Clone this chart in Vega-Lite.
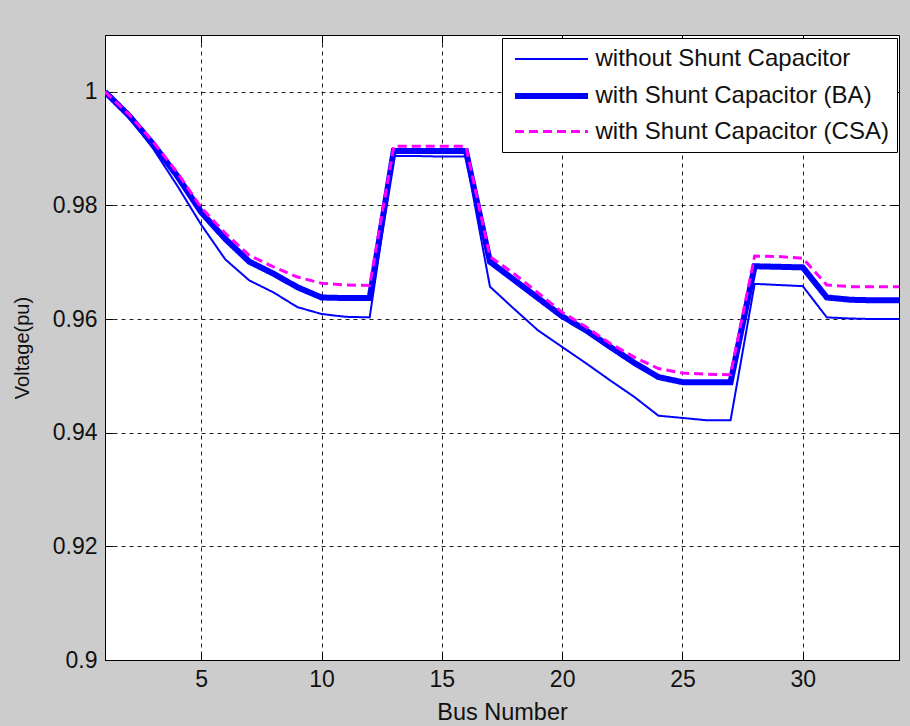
{
  "$schema": "https://vega.github.io/schema/vega-lite/v6.json",
  "width": 794,
  "height": 625,
  "autosize": {"type": "none"},
  "padding": {"left": 105, "top": 35, "right": 11, "bottom": 66},
  "background": "#cccccc",
  "config": {
    "view": {"fill": "white", "stroke": "black", "strokeWidth": 1},
    "font": "Liberation Sans",
    "axis": {
      "labelFont": "Liberation Sans", "labelFontSize": 23, "labelColor": "#111",
      "titleFont": "Liberation Sans", "titleFontWeight": "normal", "titleColor": "#111",
      "domainColor": "black", "tickColor": "black", "gridColor": "#222", "gridDash": [4, 4],
      "gridOpacity": 1, "gridWidth": 1
    },
    "legend": {
      "orient": "none", "legendX": 397, "legendY": 3, "strokeColor": "black", "fillColor": "white",
      "padding": 8, "rowPadding": 10, "labelFont": "Liberation Sans", "labelFontSize": 24,
      "labelColor": "#111", "labelOffset": 29, "symbolOffset": 26.5, "symbolType": "M-3.04,0H3.04",
      "symbolSize": 576, "labelLimit": 500
    }
  },
  "data": {"values": [
    {"bus": 1, "series": "without Shunt Capacitor", "v": 1.0},
    {"bus": 2, "series": "without Shunt Capacitor", "v": 0.9955},
    {"bus": 3, "series": "without Shunt Capacitor", "v": 0.9900},
    {"bus": 4, "series": "without Shunt Capacitor", "v": 0.9835},
    {"bus": 5, "series": "without Shunt Capacitor", "v": 0.9766},
    {"bus": 6, "series": "without Shunt Capacitor", "v": 0.9705},
    {"bus": 7, "series": "without Shunt Capacitor", "v": 0.9668},
    {"bus": 8, "series": "without Shunt Capacitor", "v": 0.9647},
    {"bus": 9, "series": "without Shunt Capacitor", "v": 0.9621},
    {"bus": 10, "series": "without Shunt Capacitor", "v": 0.9609},
    {"bus": 11, "series": "without Shunt Capacitor", "v": 0.9604},
    {"bus": 12, "series": "without Shunt Capacitor", "v": 0.9603},
    {"bus": 13, "series": "without Shunt Capacitor", "v": 0.9887},
    {"bus": 14, "series": "without Shunt Capacitor", "v": 0.9887},
    {"bus": 15, "series": "without Shunt Capacitor", "v": 0.9886},
    {"bus": 16, "series": "without Shunt Capacitor", "v": 0.9886},
    {"bus": 17, "series": "without Shunt Capacitor", "v": 0.9657},
    {"bus": 18, "series": "without Shunt Capacitor", "v": 0.9618},
    {"bus": 19, "series": "without Shunt Capacitor", "v": 0.9580},
    {"bus": 20, "series": "without Shunt Capacitor", "v": 0.9551},
    {"bus": 21, "series": "without Shunt Capacitor", "v": 0.9522},
    {"bus": 22, "series": "without Shunt Capacitor", "v": 0.9492},
    {"bus": 23, "series": "without Shunt Capacitor", "v": 0.9463},
    {"bus": 24, "series": "without Shunt Capacitor", "v": 0.9430},
    {"bus": 25, "series": "without Shunt Capacitor", "v": 0.9426},
    {"bus": 26, "series": "without Shunt Capacitor", "v": 0.9422},
    {"bus": 27, "series": "without Shunt Capacitor", "v": 0.9422},
    {"bus": 28, "series": "without Shunt Capacitor", "v": 0.9662},
    {"bus": 29, "series": "without Shunt Capacitor", "v": 0.9660},
    {"bus": 30, "series": "without Shunt Capacitor", "v": 0.9658},
    {"bus": 31, "series": "without Shunt Capacitor", "v": 0.9603},
    {"bus": 32, "series": "without Shunt Capacitor", "v": 0.9601},
    {"bus": 33, "series": "without Shunt Capacitor", "v": 0.9600},
    {"bus": 34, "series": "without Shunt Capacitor", "v": 0.9600},
    {"bus": 1, "series": "with Shunt Capacitor (BA)", "v": 1.0},
    {"bus": 2, "series": "with Shunt Capacitor (BA)", "v": 0.9958},
    {"bus": 3, "series": "with Shunt Capacitor (BA)", "v": 0.9908},
    {"bus": 4, "series": "with Shunt Capacitor (BA)", "v": 0.9852},
    {"bus": 5, "series": "with Shunt Capacitor (BA)", "v": 0.9788},
    {"bus": 6, "series": "with Shunt Capacitor (BA)", "v": 0.9741},
    {"bus": 7, "series": "with Shunt Capacitor (BA)", "v": 0.9701},
    {"bus": 8, "series": "with Shunt Capacitor (BA)", "v": 0.9680},
    {"bus": 9, "series": "with Shunt Capacitor (BA)", "v": 0.9656},
    {"bus": 10, "series": "with Shunt Capacitor (BA)", "v": 0.9638},
    {"bus": 11, "series": "with Shunt Capacitor (BA)", "v": 0.9637},
    {"bus": 12, "series": "with Shunt Capacitor (BA)", "v": 0.9637},
    {"bus": 13, "series": "with Shunt Capacitor (BA)", "v": 0.9896},
    {"bus": 14, "series": "with Shunt Capacitor (BA)", "v": 0.9896},
    {"bus": 15, "series": "with Shunt Capacitor (BA)", "v": 0.9896},
    {"bus": 16, "series": "with Shunt Capacitor (BA)", "v": 0.9896},
    {"bus": 17, "series": "with Shunt Capacitor (BA)", "v": 0.9701},
    {"bus": 18, "series": "with Shunt Capacitor (BA)", "v": 0.9669},
    {"bus": 19, "series": "with Shunt Capacitor (BA)", "v": 0.9637},
    {"bus": 20, "series": "with Shunt Capacitor (BA)", "v": 0.9605},
    {"bus": 21, "series": "with Shunt Capacitor (BA)", "v": 0.9580},
    {"bus": 22, "series": "with Shunt Capacitor (BA)", "v": 0.9551},
    {"bus": 23, "series": "with Shunt Capacitor (BA)", "v": 0.9523},
    {"bus": 24, "series": "with Shunt Capacitor (BA)", "v": 0.9498},
    {"bus": 25, "series": "with Shunt Capacitor (BA)", "v": 0.9489},
    {"bus": 26, "series": "with Shunt Capacitor (BA)", "v": 0.9489},
    {"bus": 27, "series": "with Shunt Capacitor (BA)", "v": 0.9489},
    {"bus": 28, "series": "with Shunt Capacitor (BA)", "v": 0.9693},
    {"bus": 29, "series": "with Shunt Capacitor (BA)", "v": 0.9692},
    {"bus": 30, "series": "with Shunt Capacitor (BA)", "v": 0.9691},
    {"bus": 31, "series": "with Shunt Capacitor (BA)", "v": 0.9638},
    {"bus": 32, "series": "with Shunt Capacitor (BA)", "v": 0.9634},
    {"bus": 33, "series": "with Shunt Capacitor (BA)", "v": 0.9633},
    {"bus": 34, "series": "with Shunt Capacitor (BA)", "v": 0.9633},
    {"bus": 1, "series": "with Shunt Capacitor (CSA)", "v": 1.0},
    {"bus": 2, "series": "with Shunt Capacitor (CSA)", "v": 0.9960},
    {"bus": 3, "series": "with Shunt Capacitor (CSA)", "v": 0.9912},
    {"bus": 4, "series": "with Shunt Capacitor (CSA)", "v": 0.9858},
    {"bus": 5, "series": "with Shunt Capacitor (CSA)", "v": 0.9796},
    {"bus": 6, "series": "with Shunt Capacitor (CSA)", "v": 0.9751},
    {"bus": 7, "series": "with Shunt Capacitor (CSA)", "v": 0.9712},
    {"bus": 8, "series": "with Shunt Capacitor (CSA)", "v": 0.9692},
    {"bus": 9, "series": "with Shunt Capacitor (CSA)", "v": 0.9674},
    {"bus": 10, "series": "with Shunt Capacitor (CSA)", "v": 0.9663},
    {"bus": 11, "series": "with Shunt Capacitor (CSA)", "v": 0.9660},
    {"bus": 12, "series": "with Shunt Capacitor (CSA)", "v": 0.9659},
    {"bus": 13, "series": "with Shunt Capacitor (CSA)", "v": 0.9904},
    {"bus": 14, "series": "with Shunt Capacitor (CSA)", "v": 0.9904},
    {"bus": 15, "series": "with Shunt Capacitor (CSA)", "v": 0.9904},
    {"bus": 16, "series": "with Shunt Capacitor (CSA)", "v": 0.9904},
    {"bus": 17, "series": "with Shunt Capacitor (CSA)", "v": 0.9710},
    {"bus": 18, "series": "with Shunt Capacitor (CSA)", "v": 0.9680},
    {"bus": 19, "series": "with Shunt Capacitor (CSA)", "v": 0.9646},
    {"bus": 20, "series": "with Shunt Capacitor (CSA)", "v": 0.9612},
    {"bus": 21, "series": "with Shunt Capacitor (CSA)", "v": 0.9586},
    {"bus": 22, "series": "with Shunt Capacitor (CSA)", "v": 0.9557},
    {"bus": 23, "series": "with Shunt Capacitor (CSA)", "v": 0.9533},
    {"bus": 24, "series": "with Shunt Capacitor (CSA)", "v": 0.9513},
    {"bus": 25, "series": "with Shunt Capacitor (CSA)", "v": 0.9505},
    {"bus": 26, "series": "with Shunt Capacitor (CSA)", "v": 0.9503},
    {"bus": 27, "series": "with Shunt Capacitor (CSA)", "v": 0.9502},
    {"bus": 28, "series": "with Shunt Capacitor (CSA)", "v": 0.9711},
    {"bus": 29, "series": "with Shunt Capacitor (CSA)", "v": 0.9710},
    {"bus": 30, "series": "with Shunt Capacitor (CSA)", "v": 0.9707},
    {"bus": 31, "series": "with Shunt Capacitor (CSA)", "v": 0.9660},
    {"bus": 32, "series": "with Shunt Capacitor (CSA)", "v": 0.9657},
    {"bus": 33, "series": "with Shunt Capacitor (CSA)", "v": 0.9657},
    {"bus": 34, "series": "with Shunt Capacitor (CSA)", "v": 0.9657}
  ]},
  "layer": [
    {
      "mark": {"type": "line", "clip": true},
      "encoding": {
        "x": {"field": "bus", "type": "quantitative",
          "scale": {"domain": [1, 34], "nice": false, "zero": false},
          "axis": {"values": [5, 10, 15, 20, 25, 30], "grid": true, "tickSize": -8, "labelPadding": 16,
            "title": "Bus Number", "titleFontSize": 23.5, "titlePadding": 9}},
        "y": {"field": "v", "type": "quantitative",
          "scale": {"domain": [0.9, 1.01], "nice": false, "zero": false},
          "axis": {"values": [0.9, 0.92, 0.94, 0.96, 0.98, 1.0], "format": ".2~f", "grid": true, "tickSize": -8,
            "labelPadding": 16, "title": "Voltage(pu)", "titleFontSize": 20, "titlePadding": 20}},
        "color": {"field": "series", "type": "nominal", "title": null,
          "scale": {"domain": ["without Shunt Capacitor", "with Shunt Capacitor (BA)", "with Shunt Capacitor (CSA)"],
            "range": ["#0000ff", "#0000ff", "#ff00ff"]}},
        "strokeWidth": {"field": "series", "type": "nominal", "title": null,
          "scale": {"type": "ordinal", "domain": ["without Shunt Capacitor", "with Shunt Capacitor (BA)", "with Shunt Capacitor (CSA)"],
            "range": [2, 6, 3]}},
        "strokeDash": {"field": "series", "type": "nominal", "title": null,
          "scale": {"domain": ["without Shunt Capacitor", "with Shunt Capacitor (BA)", "with Shunt Capacitor (CSA)"],
            "range": [[1, 0], [1, 0], [9, 5]]}}
      }
    },
    {
      "mark": {"type": "point", "opacity": 0},
      "encoding": {
        "x": {"field": "bus", "type": "quantitative",
          "axis": {"orient": "top", "values": [5, 10, 15, 20, 25, 30], "labels": false, "grid": false, "domain": false, "tickSize": -8, "title": null}},
        "y": {"field": "v", "type": "quantitative",
          "axis": {"orient": "right", "values": [0.9, 0.92, 0.94, 0.96, 0.98, 1.0], "labels": false, "grid": false, "domain": false, "tickSize": -8, "title": null}}
      }
    }
  ],
  "resolve": {"axis": {"x": "independent", "y": "independent"}}
}
